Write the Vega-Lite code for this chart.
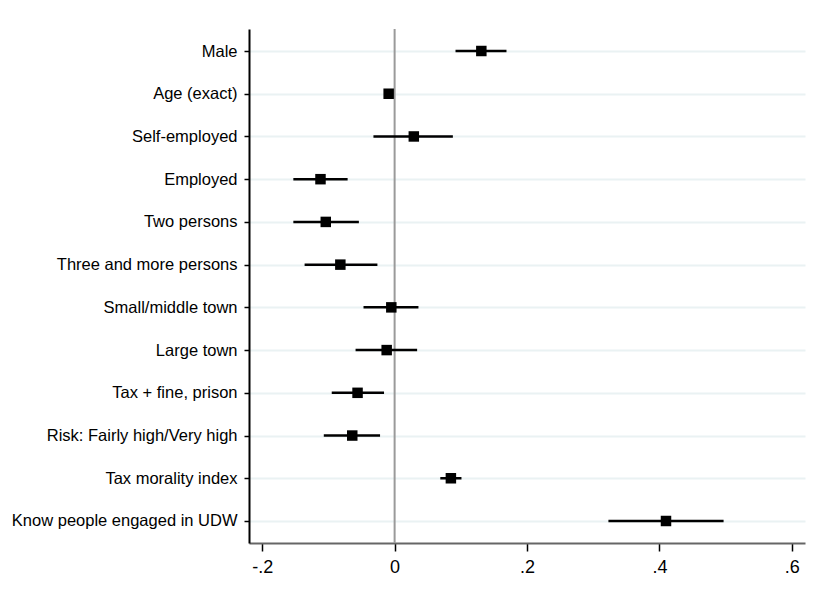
{
  "$schema": "https://vega.github.io/schema/vega-lite/v6.json",
  "autosize": "none",
  "width": 556,
  "height": 514,
  "padding": {"left": 249, "top": 29, "right": 10, "bottom": 57},
  "background": "white",
  "config": {
    "view": {"stroke": null},
    "font": "Liberation Sans"
  },
  "data": {
    "values": [
      {"var": "Male", "coef": 0.131, "lo": 0.092, "hi": 0.169},
      {"var": "Age (exact)", "coef": -0.009, "lo": -0.011, "hi": -0.007},
      {"var": "Self-employed", "coef": 0.029, "lo": -0.032, "hi": 0.088},
      {"var": "Employed", "coef": -0.112, "lo": -0.153, "hi": -0.071},
      {"var": "Two persons", "coef": -0.104, "lo": -0.153, "hi": -0.054},
      {"var": "Three and more persons", "coef": -0.082, "lo": -0.136, "hi": -0.026},
      {"var": "Small/middle town", "coef": -0.005, "lo": -0.047, "hi": 0.036},
      {"var": "Large town", "coef": -0.012, "lo": -0.059, "hi": 0.034},
      {"var": "Tax + fine, prison", "coef": -0.056, "lo": -0.095, "hi": -0.016},
      {"var": "Risk: Fairly high/Very high", "coef": -0.064, "lo": -0.107, "hi": -0.022},
      {"var": "Tax morality index", "coef": 0.085, "lo": 0.069, "hi": 0.101},
      {"var": "Know people engaged in UDW", "coef": 0.41, "lo": 0.323, "hi": 0.497}
    ]
  },
  "encoding": {
    "y": {
      "field": "var",
      "type": "nominal",
      "sort": null,
      "title": null,
      "scale": {"type": "point", "padding": 0.515},
      "axis": {
        "grid": true,
        "gridColor": "#eaf2f3",
        "gridWidth": 2,
        "domainColor": "black",
        "domainWidth": 2,
        "tickColor": "black",
        "tickWidth": 1.5,
        "tickSize": 5,
        "labelPadding": 7,
        "labelFontSize": 16.5,
        "labelColor": "black",
        "labelFont": "Liberation Sans",
        "labelLimit": 400
      }
    }
  },
  "layer": [
    {
      "mark": {"type": "rule", "color": "#9a9a9a", "strokeWidth": 2},
      "data": {"values": [{"z": 0}]},
      "encoding": {
        "x": {"field": "z", "type": "quantitative"},
        "y": null
      }
    },
    {
      "mark": {"type": "rule", "color": "black", "strokeWidth": 2.5},
      "encoding": {
        "x": {
          "field": "lo",
          "type": "quantitative",
          "title": null,
          "scale": {"domain": [-0.22, 0.62], "nice": false, "zero": false},
          "axis": {
            "values": [-0.2, 0, 0.2, 0.4, 0.6],
            "labelExpr": "datum.value == 0 ? '0' : replace(replace(format(datum.value, '.1f'), '0.', '.'), '\u2212', '-')",
            "grid": false,
            "domainColor": "#666666",
            "domainWidth": 2,
            "tickColor": "black",
            "tickWidth": 1.5,
            "tickSize": 8,
            "labelPadding": 7,
            "labelFontSize": 18,
            "labelColor": "black",
            "labelFont": "Liberation Sans"
          }
        },
        "x2": {"field": "hi"}
      }
    },
    {
      "mark": {"type": "point", "shape": "square", "filled": true, "color": "black", "size": 110, "opacity": 1},
      "encoding": {
        "x": {"field": "coef", "type": "quantitative"}
      }
    }
  ]
}
